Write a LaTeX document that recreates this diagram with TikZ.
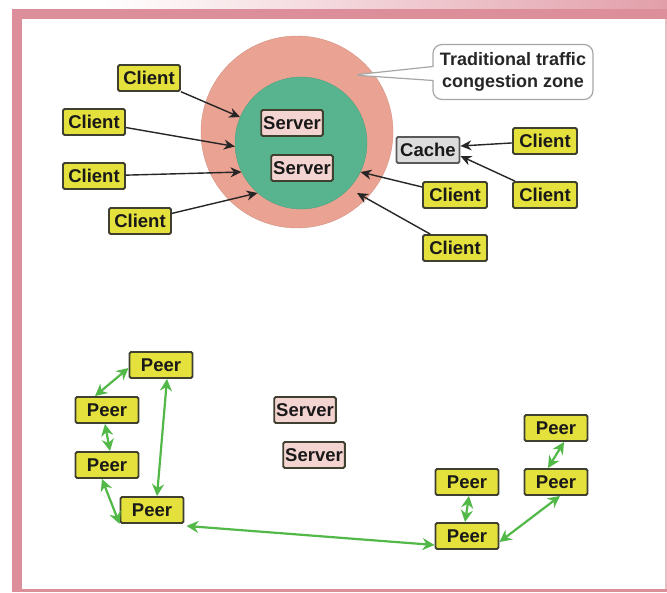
\documentclass[tikz,border=0pt]{standalone}
\usepackage{fontspec}
\setmainfont{Liberation Sans}
\usetikzlibrary{arrows.meta,shapes.callouts}
\definecolor{framepink}{HTML}{DD8E9B}
\definecolor{salmon}{HTML}{EAA292}
\definecolor{teal}{HTML}{58B48F}
\definecolor{clientyellow}{HTML}{E4E03C}
\definecolor{boxborder}{HTML}{404030}
\definecolor{serverpink}{HTML}{F4D4D0}
\definecolor{cachegray}{HTML}{DCDCDC}
\definecolor{peergreen}{HTML}{52B848}
\tikzset{
  boxbase/.style={draw=boxborder, line width=1.9, rounded corners=1.5, minimum height=26, inner sep=2,
    font=\bfseries\fontsize{18.5}{18.5}\selectfont, text=black!90},
  client/.style={boxbase, fill=clientyellow, minimum width=62},
  peer/.style={boxbase, fill=clientyellow, minimum width=63},
  server/.style={boxbase, fill=serverpink, minimum width=61},
  cachebox/.style={boxbase, fill=cachegray, draw=gray!70!black, minimum width=63},
  blk/.style={-{Stealth[length=11,width=10]}, line width=1.4, black!85},
  grn/.style={{Stealth[length=12,width=12]}-{Stealth[length=12,width=12]}, line width=2.2, peergreen},
}
\begin{document}
\begin{tikzpicture}[x=1pt,y=-1pt]
\useasboundingbox (0,0) rectangle (667,592);
% frame
\fill[white] (0,0) rectangle (667,592);
\shade[left color=white, right color=framepink!85] (100,0) rectangle (667,9);
\fill[framepink] (12,9) rectangle (667,19);
\fill[framepink] (12,9) rectangle (22,592);
\fill[framepink] (12,589) rectangle (667,592);
\fill[framepink!60] (665,19) rectangle (667,589);
% zones
\node[circle, fill=salmon, draw=salmon!90!black, minimum size=192, inner sep=0] (outer) at (297,132) {};
\node[circle, fill=teal, draw=teal!90!black, minimum size=132, inner sep=0] (inner) at (301,143) {};
\coordinate (lowtip) at (357,193);
% callout
\node[rectangle callout, draw=gray!70, line width=1.2, fill=white, rounded corners=9,
  minimum width=160, minimum height=55, inner sep=3, callout absolute pointer={(353,75)},
  callout pointer width=14, align=center, font=\bfseries\fontsize{18}{22}\selectfont, text=black!85]
  (zone) at (513,72) {Traditional traffic\\congestion zone};
% servers
\node[server] (s1) at (292,123) {Server};
\node[server] (s2) at (302,168) {Server};
% clients
\node[client] (c1) at (149,78) {Client};
\node[client] (c2) at (94,122) {Client};
\node[client] (c3) at (94,176) {Client};
\node[client] (c4) at (140,221) {Client};
\node[client, minimum width=64] (c5) at (455,195) {Client};
\node[client, minimum width=64] (c6) at (455,248) {Client};
\node[client, minimum width=64] (c7) at (545,141) {Client};
\node[client, minimum width=64] (c8) at (545,195) {Client};
\node[cachebox] (cache) at (428,150) {Cache};
% client arrows
\draw[blk] (c1) -- (inner.157);
\draw[blk] (c2) -- (inner.183);
\draw[blk] (c3) -- (inner.206);
\draw[blk] (c4) -- (inner.229);
\draw[blk] (c5) -- (inner.334);
\draw[blk] (c6) -- (lowtip);
\draw[blk] (c7) -- ([yshift=4]cache.east);
\draw[blk] (c8) -- ([yshift=-6]cache.east);
% peer network
\node[peer] (pA) at (161,365) {Peer};
\node[peer] (pB) at (107,410) {Peer};
\node[peer] (pC) at (107,465) {Peer};
\node[peer] (pD) at (152,510) {Peer};
\node[peer] (pE) at (556,428) {Peer};
\node[peer] (pF) at (556,482) {Peer};
\node[peer] (pG) at (467,482) {Peer};
\node[peer] (pH) at (467,536) {Peer};
\node[server] (s3) at (305,410) {Server};
\node[server] (s4) at (314,455) {Server};
\draw[grn] ([yshift=-3]pA.west) -- ([xshift=-12]pB.north);
\draw[grn] ([xshift=6]pA.south) -- ([xshift=5]pD.north);
\draw[grn] ([xshift=-2]pB.south) -- ([xshift=3]pC.north);
\draw[grn] ([xshift=-5]pC.south) -- (pD.south west);
\draw[grn] ([xshift=2,yshift=-2]pD.south east) -- ([yshift=-9]pH.west);
\draw[grn] ([xshift=2]pG.south) -- ([xshift=-2]pH.north);
\draw[grn] ([yshift=-6]pH.east) -- ([xshift=4]pF.south);
\draw[grn] ([xshift=-8]pF.north) -- ([xshift=8]pE.south);
\end{tikzpicture}
\end{document}
